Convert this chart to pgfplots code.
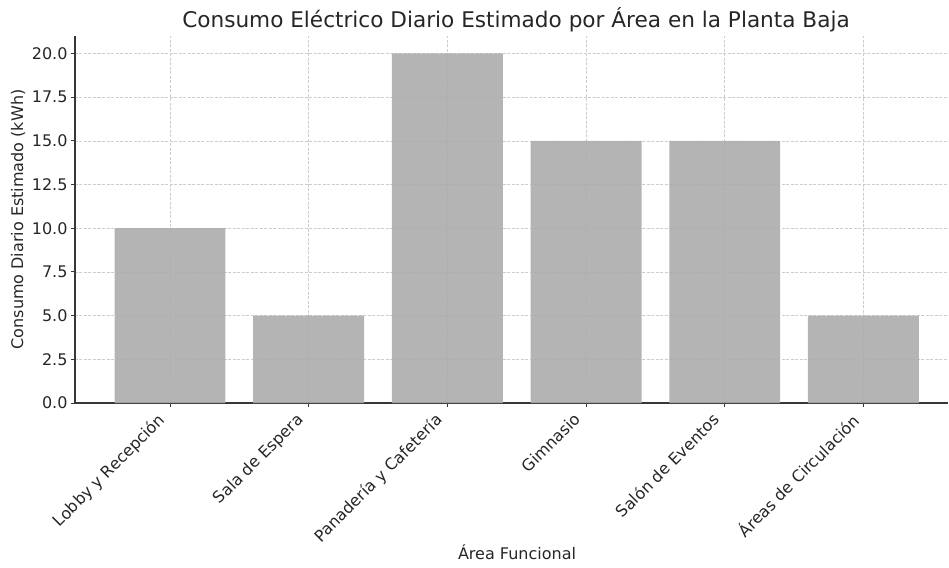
\documentclass[border=0pt]{standalone}
\usepackage{fontspec}
\setmainfont{DejaVu Sans}
\usepackage{pgfplots}
\pgfplotsset{compat=1.18}
\definecolor{bargray}{RGB}{172,172,172}
\definecolor{txt}{RGB}{38,38,38}
\definecolor{gridc}{RGB}{205,205,205}
\definecolor{spine}{RGB}{55,55,55}
\begin{document}
\begin{tikzpicture}[x=1pt,y=1pt]
\begin{axis}[at={(0,0)}, anchor=south west, scale only axis,
  width=873pt, height=367pt,
  xmin=-0.685, xmax=5.61, ymin=0, ymax=21,
  axis x line*=bottom, axis y line*=left,
  axis line style={spine, line width=1.1pt, -},
  xtick={0,1,2,3,4,5},
  xticklabels={Lobby y Recepción, Sala de Espera, Panadería y Cafetería, Gimnasio, Salón de Eventos, Áreas de Circulación},
  x tick label style={xshift=-13pt, rotate=45, anchor=north east, font=\fontsize{16}{19}\selectfont, text=txt},
  ytick={0,2.5,5,7.5,10,12.5,15,17.5,20},
  y tick label style={font=\fontsize{16}{19}\selectfont, text=txt},
  yticklabel style={/pgf/number format/fixed, /pgf/number format/fixed zerofill, /pgf/number format/precision=1},
  /pgf/number format/assume math mode=true,
  xtick align=inside, ytick align=outside,
  major tick length=4pt,
  tick style={spine, line width=0.9pt},
  grid=major,
  major grid style={gridc, dash pattern=on 3pt off 1.5pt, line width=0.6pt},
  ybar, bar width=0.8,
]
\addplot[draw=none, fill=bargray, fill opacity=0.9, bar shift=0pt] coordinates {
(0,10) (1,5) (2,20) (3,15) (4,15) (5,5)};
\end{axis}
\node[text=txt, font=\fontsize{21.6}{26}\selectfont] at (441,383) {Consumo Eléctrico Diario Estimado por Área en la Planta Baja};
\node[text=txt, font=\fontsize{16}{19}\selectfont, rotate=90] at (-57,183.5) {Consumo Diario Estimado (kWh)};
\node[text=txt, font=\fontsize{16}{19}\selectfont] at (442,-149) {Área Funcional};
\pgfresetboundingbox
\path[use as bounding box] (-75,-164) rectangle (874,403);
\end{tikzpicture}
\end{document}
